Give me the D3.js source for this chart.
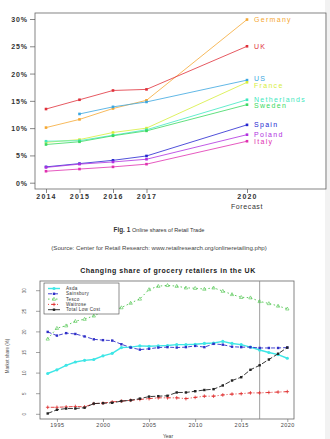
<!DOCTYPE html>
<meta charset="utf-8">
<head>
<style>
    body {margin: 0; background: #fff;}
    svg text {font-family: "Liberation Sans", Arial, sans-serif;}
</style>
</head>
<body>
<div class="chart"></div>
</body>
<script src="https://d3js.org/d3.v7.min.js"></script>
<script>
// ---- top chart: online shares of retail trade ----
var years = [2014, 2015, 2016, 2017, 2020];
var yTicks = [0, 5, 10, 15, 20, 25, 30];
var countries = ["Germany", "UK", "US", "France", "Netherlands", "Sweden", "Spain", "Poland", "Italy"];
var colors = ["#f5a833", "#e0303a", "#3aa6e0", "#d6ee3a", "#3ee8c0", "#3ad860", "#2424d0", "#b030e0", "#e030b0"];
var germany = [10.1, 11.6, 13.6, 15.1, 29.9];
var uk = [13.5, 15.2, 16.9, 17.1, 25.0];
var us = [null, 12.6, 13.9, 14.8, 18.8];
var france = [7.4, 7.9, 9.2, 10.0, 18.4];
var netherlands = [7.6, 7.7, 8.7, 9.7, 15.2];
var sweden = [7.0, 7.5, 8.6, 9.5, 14.3];
var spain = [2.9, 3.5, 4.1, 4.9, 10.6];
var poland = [2.8, 3.4, 3.8, 4.3, 8.8];
var italy = [2.1, 2.5, 2.9, 3.4, 7.6];
var series = [germany, uk, us, france, netherlands, sweden, spain, poland, italy];

// ---- bottom chart: grocery retailers UK ----
var gYears = [1994, 1995, 1996, 1997, 1998, 1999, 2000, 2001, 2002, 2003, 2004, 2005, 2006, 2007,
    2008, 2009, 2010, 2011, 2012, 2013, 2014, 2015, 2016, 2017, 2018, 2019, 2020];
var gXTicks = [1995, 2000, 2005, 2010, 2015, 2020];
var gYTicks = [0, 5, 10, 15, 20, 25, 30];
var asda = [9.9, 10.8, 11.9, 12.7, 13.1, 13.3, 14.2, 14.8, 16.2, 16.3, 16.6, 16.5, 16.6, 16.7,
    16.9, 16.9, 17.0, 17.2, 17.3, 17.7, 17.2, 16.9, 16.3, 15.6, 15.0, 14.5, 13.6];
var sainsbury = [20.0, 19.1, 19.7, 19.5, 18.9, 18.2, 18.0, 17.9, 17.0, 16.2, 15.7, 15.9, 16.2, 16.3,
    16.2, 16.3, 16.6, 16.3, 17.1, 16.9, 16.4, 16.3, 16.3, 16.1, 16.1, 16.1, 16.2];
var tesco = [18.3, 20.9, 21.5, 22.6, 23.1, 23.9, 24.9, 25.2, 25.9, 27.0, 28.0, 30.3, 31.1, 31.3,
    31.1, 30.7, 30.6, 30.4, 30.7, 29.9, 29.1, 28.4, 28.3, 27.4, 26.9, 26.3, 25.6];
var waitrose = [1.7, 1.7, 1.8, 1.9, 1.8, 2.6, 2.7, 3.0, 3.2, 3.4, 3.6, 3.8, 4.0, 4.0,
    4.0, 3.8, 4.1, 4.4, 4.4, 4.7, 4.9, 5.0, 5.2, 5.2, 5.3, 5.4, 5.5];
var lowCost = [0.2, 1.1, 1.4, 1.4, 1.6, 2.6, 2.7, 2.8, 3.2, 3.4, 3.8, 4.3, 4.4, 4.5,
    5.3, 5.3, 5.6, 5.9, 6.1, 7.0, 8.2, 9.0, 10.8, 11.9, 13.3, 14.7, 16.2];
var retailers = ["Asda", "Sainsbury", "Tesco", "Waitrose", "Total Low Cost"];
var rColors = ["#3ee6e6", "#3030c8", "#4cc44c", "#e03030", "#222222"];
var rDash = ["none", "4,2", "1.5,2.5", "1,2,4,2", "5,2"];
var rShape = ["circle", "square", "triangle", "cross", "square"];
var rSeries = [asda, sainsbury, tesco, waitrose, lowCost];
var markerYear = 2017;

var svg = d3.select(".chart").append("svg")
    .attr("width", 330)
    .attr("height", 439);

// page edge strip on the right
svg.append("rect").attr("x", 325).attr("y", 0).attr("width", 5).attr("height", 439).attr("fill", "#f2f2f2");

draw_top();
draw_captions();
draw_bottom();

function draw_top() {
    var left = 35, right = 326, top = 13, bottom = 189;
    var x = d3.scaleLinear().domain([2014, 2020]).range([46, 247]);
    var y = d3.scaleLinear().domain([0, 30]).range([182.7, 19]);
    var g = svg.append("g");

    g.append("rect").attr("x", left).attr("y", top).attr("width", right - left).attr("height", bottom - top)
        .attr("fill", "none").attr("stroke", "#666").attr("stroke-width", 0.8);

    var ya = g.append("g").attr("transform", "translate(" + left + ",0)")
        .call(d3.axisLeft(y).tickValues(yTicks).tickSize(5).tickFormat(function (d) { return d + "%"; }));
    ya.select(".domain").remove();
    ya.selectAll("line").attr("stroke", "#555").attr("stroke-width", 0.7);
    ya.selectAll("text").attr("font-size", "7px").attr("letter-spacing", "0.9px").attr("fill", "#333")
        .attr("font-weight", "bold").attr("x", -7).attr("dy", "0.35em");

    var xa = g.append("g").attr("transform", "translate(0," + bottom + ")")
        .call(d3.axisBottom(x).tickValues(years).tickSize(4).tickFormat(d3.format("d")));
    xa.select(".domain").remove();
    xa.selectAll("line").attr("stroke", "#555").attr("stroke-width", 0.7);
    xa.selectAll("text").attr("font-size", "7px").attr("letter-spacing", "1.2px").attr("fill", "#333")
        .attr("font-weight", "bold").attr("y", 5).attr("dy", "0.71em");
    g.append("text").attr("x", x(2020)).attr("y", 209).attr("text-anchor", "middle")
        .attr("font-size", "7px").attr("letter-spacing", "0.6px").attr("fill", "#333").text("Forecast");

    var line = d3.line()
        .defined(function (d) { return d != null; })
        .x(function (d, i) { return x(years[i]); })
        .y(function (d) { return y(d); });

    series.forEach(function (s, k) {
        g.append("path").datum(s).attr("d", line).attr("fill", "none")
            .attr("stroke", colors[k]).attr("stroke-width", 0.8);
        g.selectAll(".pt" + k).data(s.map(function (v, i) { return {v: v, yr: years[i]}; })
            .filter(function (d) { return d.v != null; }))
            .enter().append("rect").attr("class", "pt" + k)
            .attr("x", function (d) { return x(d.yr) - 1.3; })
            .attr("y", function (d) { return y(d.v) - 1.3; })
            .attr("width", 2.6).attr("height", 2.6).attr("fill", colors[k]);
        var last = s[s.length - 1];
        var ly = y(last);
        if (countries[k] === "France") ly += 3;
        if (countries[k] === "US") ly -= 1.5;
        if (countries[k] === "Sweden") ly += 1;
        if (countries[k] === "Italy") ly += 0.5;
        g.append("text").attr("x", x(2020) + 7).attr("y", ly).attr("dy", "0.35em")
            .attr("font-size", "7px").attr("letter-spacing", "1.3px").attr("fill", colors[k])
            .text(countries[k]);
    });
}

function draw_captions() {
    var c = svg.append("g");
    var t = c.append("text").attr("x", 159).attr("y", 232).attr("text-anchor", "middle")
        .attr("font-family", "'Open Sans', sans-serif").attr("fill", "#333");
    t.append("tspan").attr("font-size", "6.4px").attr("font-weight", "bold").text("Fig. 1 ");
    t.append("tspan").attr("font-size", "5.6px").text("Online shares of Retail Trade");
    c.append("text").attr("x", 159).attr("y", 249.5).attr("text-anchor", "middle")
        .attr("font-family", "'Open Sans', sans-serif").attr("font-size", "6.1px").attr("fill", "#444")
        .text("(Source: Center for Retail Research: www.retailresearch.org/onlineretailing.php)");
}

function draw_bottom() {
    var left = 40, right = 294, top = 281, bottom = 419;
    var x = d3.scaleLinear().domain([1994, 2020]).range([47.7, 287.3]);
    var y = d3.scaleLinear().domain([0, 30]).range([414.3, 290.7]);
    var g = svg.append("g");

    g.append("text").attr("x", 168).attr("y", 272.5).attr("text-anchor", "middle")
        .attr("font-size", "7px").attr("font-weight", "bold").attr("letter-spacing", "0.55px")
        .attr("fill", "#222").text("Changing share of grocery retailers in the UK");

    g.append("rect").attr("x", left).attr("y", top).attr("width", right - left).attr("height", bottom - top)
        .attr("fill", "none").attr("stroke", "#666").attr("stroke-width", 0.8);

    var ya = g.append("g").attr("transform", "translate(" + left + ",0)")
        .call(d3.axisLeft(y).tickValues(gYTicks).tickSize(4));
    ya.select(".domain").remove();
    ya.selectAll("line").attr("stroke", "#666").attr("stroke-width", 0.6);
    ya.selectAll("text").attr("font-size", "4.5px").attr("fill", "#555")
        .attr("text-anchor", "middle").attr("x", 0).attr("dy", 0)
        .attr("transform", function (d) { return "translate(-14," + y(d) + ") rotate(-90)"; })
        .attr("y", 0);
    // rotated labels carry their own position
    ya.selectAll(".tick").attr("transform", null);
    ya.selectAll(".tick line").attr("transform", function (d) { return "translate(0," + y(d) + ")"; });

    var xa = g.append("g").attr("transform", "translate(0," + bottom + ")")
        .call(d3.axisBottom(x).tickValues(gXTicks).tickSize(3).tickFormat(d3.format("d")));
    xa.select(".domain").remove();
    xa.selectAll("line").attr("stroke", "#666").attr("stroke-width", 0.6);
    xa.selectAll("text").attr("font-size", "5.5px").attr("letter-spacing", "0.5px").attr("fill", "#444")
        .attr("y", 4).attr("dy", "0.71em");

    g.append("text").attr("x", 168).attr("y", 438).attr("text-anchor", "middle")
        .attr("font-size", "5px").attr("fill", "#444").text("Year");
    g.append("text").attr("transform", "translate(9,356) rotate(-90)").attr("text-anchor", "middle")
        .attr("font-size", "4.5px").attr("fill", "#555").text("Market share (%)");

    // forecast divider
    g.append("line").attr("x1", x(markerYear)).attr("x2", x(markerYear)).attr("y1", top).attr("y2", bottom)
        .attr("stroke", "#888").attr("stroke-width", 0.8);

    var line = d3.line()
        .x(function (d, i) { return x(gYears[i]); })
        .y(function (d) { return y(d); });

    rSeries.forEach(function (s, k) {
        g.append("path").datum(s).attr("d", line).attr("fill", "none")
            .attr("stroke", rColors[k]).attr("stroke-width", k === 0 ? 1.4 : 0.9)
            .attr("stroke-dasharray", rDash[k]);
        var pts = s.map(function (v, i) { return [x(gYears[i]), y(v)]; });
        pts.forEach(function (p) { draw_marker(g, rShape[k], p[0], p[1], rColors[k]); });
    });

    // legend
    var lg = g.append("g");
    lg.append("rect").attr("x", 44).attr("y", 283).attr("width", 75).attr("height", 31)
        .attr("fill", "#fff").attr("stroke", "#444").attr("stroke-width", 0.6);
    retailers.forEach(function (name, k) {
        var yy = 288.5 + k * 5.3;
        lg.append("line").attr("x1", 48).attr("x2", 60).attr("y1", yy).attr("y2", yy)
            .attr("stroke", rColors[k]).attr("stroke-width", k === 0 ? 1.4 : 0.9)
            .attr("stroke-dasharray", rDash[k]);
        draw_marker(lg, rShape[k], 54, yy, rColors[k]);
        lg.append("text").attr("x", 66).attr("y", yy).attr("dy", "0.35em")
            .attr("font-size", "4.6px").attr("letter-spacing", "0.3px").attr("fill", "#333").text(name);
    });
}

function draw_marker(g, shape, cx, cy, col) {
    if (shape === "circle") {
        g.append("circle").attr("cx", cx).attr("cy", cy).attr("r", 1.6).attr("fill", col);
    } else if (shape === "square") {
        g.append("rect").attr("x", cx - 1.2).attr("y", cy - 1.2).attr("width", 2.4).attr("height", 2.4).attr("fill", col);
    } else if (shape === "triangle") {
        g.append("path").attr("d", "M" + cx + "," + (cy - 1.8) + "L" + (cx + 1.7) + "," + (cy + 1.2) + "L" + (cx - 1.7) + "," + (cy + 1.2) + "Z")
            .attr("fill", "none").attr("stroke", col).attr("stroke-width", 0.6);
    } else {
        g.append("path").attr("d", "M" + (cx - 1.8) + "," + cy + "H" + (cx + 1.8) + "M" + cx + "," + (cy - 1.8) + "V" + (cy + 1.8))
            .attr("stroke", col).attr("stroke-width", 0.8);
    }
}
</script>
</body>
